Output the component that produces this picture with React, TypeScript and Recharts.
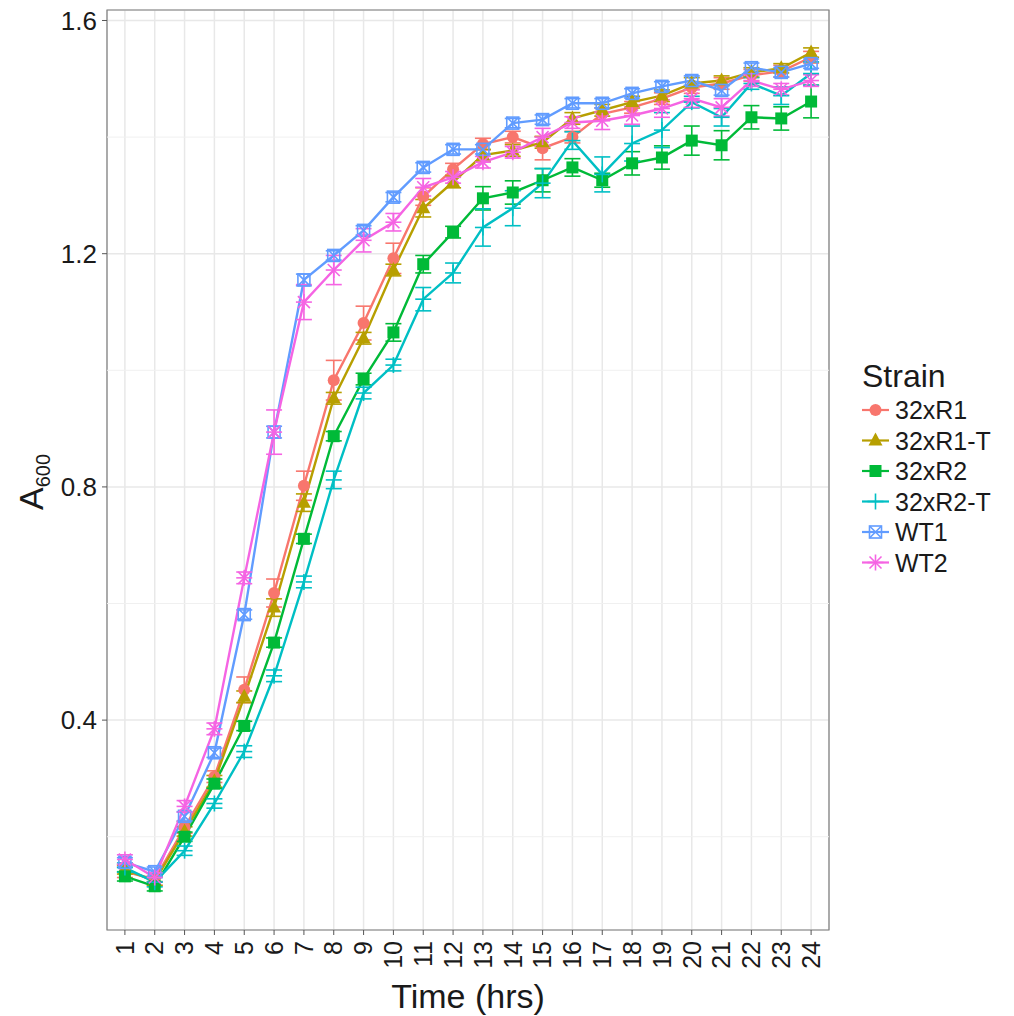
import React from "react";
import { LineChart, Line, XAxis, YAxis, CartesianGrid, ReferenceLine, ReferenceArea, ErrorBar } from "recharts";

// hours (x categories)
const hours = [1, 2, 3, 4, 5, 6, 7, 8, 9, 10, 11, 12, 13, 14, 15, 16, 17, 18, 19, 20, 21, 22, 23, 24];

// A600 readings per strain
const r1 = [0.140, 0.127, 0.216, 0.303, 0.452, 0.618, 0.802, 0.983, 1.081, 1.192, 1.298, 1.345, 1.388, 1.400, 1.381, 1.400, 1.440, 1.451, 1.466, 1.485, 1.492, 1.506, 1.513, 1.537];
const r1t = [0.144, 0.124, 0.209, 0.295, 0.440, 0.593, 0.773, 0.952, 1.055, 1.172, 1.278, 1.323, 1.369, 1.377, 1.391, 1.432, 1.446, 1.460, 1.471, 1.492, 1.497, 1.511, 1.518, 1.545];
const r2 = [0.132, 0.115, 0.200, 0.291, 0.390, 0.533, 0.711, 0.887, 0.985, 1.065, 1.182, 1.237, 1.295, 1.305, 1.326, 1.348, 1.326, 1.355, 1.365, 1.394, 1.386, 1.434, 1.432, 1.461];
const r2t = [0.147, 0.122, 0.176, 0.257, 0.346, 0.476, 0.637, 0.812, 0.961, 1.009, 1.122, 1.167, 1.245, 1.278, 1.321, 1.394, 1.336, 1.389, 1.412, 1.460, 1.434, 1.492, 1.471, 1.509];
const wt1 = [0.156, 0.140, 0.235, 0.344, 0.581, 0.894, 1.155, 1.197, 1.240, 1.297, 1.348, 1.379, 1.379, 1.424, 1.430, 1.458, 1.458, 1.475, 1.487, 1.497, 1.480, 1.519, 1.511, 1.526];
const wt2 = [0.161, 0.130, 0.252, 0.385, 0.644, 0.894, 1.117, 1.172, 1.223, 1.254, 1.314, 1.331, 1.357, 1.374, 1.400, 1.425, 1.428, 1.437, 1.449, 1.466, 1.451, 1.497, 1.482, 1.497];

// error bar half-widths
const r1e = [0.01, 0.01, 0.01, 0.01, 0.022, 0.024, 0.025, 0.034, 0.029, 0.026, 0.015, 0.01, 0.01, 0.01, 0.02, 0.01, 0.01, 0.01, 0.01, 0.01, 0.01, 0.01, 0.01, 0.01];
const r1te = [0.008, 0.008, 0.008, 0.01, 0.01, 0.015, 0.015, 0.01, 0.01, 0.01, 0.015, 0.01, 0.01, 0.01, 0.01, 0.01, 0.01, 0.01, 0.01, 0.01, 0.008, 0.008, 0.008, 0.008];
const r2e = [0.008, 0.008, 0.008, 0.008, 0.008, 0.008, 0.008, 0.008, 0.01, 0.015, 0.015, 0.01, 0.02, 0.02, 0.02, 0.015, 0.012, 0.02, 0.02, 0.025, 0.025, 0.02, 0.02, 0.028];
const r2te = [0.008, 0.008, 0.008, 0.008, 0.01, 0.01, 0.01, 0.015, 0.01, 0.01, 0.02, 0.017, 0.032, 0.03, 0.025, 0.015, 0.03, 0.03, 0.03, 0.01, 0.015, 0.01, 0.015, 0.02];
const wt1e = [0.008, 0.008, 0.008, 0.008, 0.008, 0.01, 0.01, 0.008, 0.008, 0.008, 0.008, 0.008, 0.008, 0.008, 0.008, 0.008, 0.008, 0.008, 0.008, 0.008, 0.008, 0.008, 0.008, 0.008];
const wt2e = [0.008, 0.008, 0.01, 0.01, 0.01, 0.038, 0.03, 0.025, 0.02, 0.015, 0.015, 0.01, 0.01, 0.01, 0.015, 0.01, 0.015, 0.015, 0.015, 0.015, 0.015, 0.01, 0.01, 0.01];

const strains = ["32xR1", "32xR1-T", "32xR2", "32xR2-T", "WT1", "WT2"];
const colors = ["#F8766D", "#B79F00", "#00BA38", "#00BFC4", "#619CFF", "#F564E3"];
const shapes = ["circle", "triangle", "square", "plus", "boxx", "star"];
const values = [r1, r1t, r2, r2t, wt1, wt2];
const errors = [r1e, r1te, r2e, r2te, wt1e, wt2e];

const yTicks = [0.4, 0.8, 1.2, 1.6];
const yMinor = [0.2, 0.6, 1.0, 1.4];

const data = hours.map((h, i) => {
  const row: any = { t: h };
  values.forEach((v, k) => {
    row["s" + k] = v[i];
    row["e" + k] = errors[k][i];
  });
  return row;
});

const FONT = "'Liberation Sans', Arial, Helvetica, sans-serif";
const INK = "#1a1a1a";

function Marker({ shape, color, cx, cy }) {
  if (cx == null || cy == null) return null;
  switch (shape) {
    case "circle":
      return <circle cx={cx} cy={cy} r={6} fill={color} />;
    case "triangle":
      return <polygon points={`${cx},${cy - 8} ${cx - 7},${cy + 5} ${cx + 7},${cy + 5}`} fill={color} />;
    case "square":
      return <rect x={cx - 6} y={cy - 6} width={12} height={12} fill={color} />;
    case "plus":
      return (
        <g stroke={color} strokeWidth={1.6}>
          <line x1={cx - 8} y1={cy} x2={cx + 8} y2={cy} />
          <line x1={cx} y1={cy - 8} x2={cx} y2={cy + 8} />
        </g>
      );
    case "boxx":
      return (
        <g stroke={color} strokeWidth={1.6} fill="none">
          <rect x={cx - 6} y={cy - 6} width={12} height={12} />
          <line x1={cx - 6} y1={cy - 6} x2={cx + 6} y2={cy + 6} />
          <line x1={cx - 6} y1={cy + 6} x2={cx + 6} y2={cy - 6} />
        </g>
      );
    default:
      return (
        <g stroke={color} strokeWidth={1.6}>
          <line x1={cx - 8} y1={cy} x2={cx + 8} y2={cy} />
          <line x1={cx} y1={cy - 8} x2={cx} y2={cy + 8} />
          <line x1={cx - 6} y1={cy - 6} x2={cx + 6} y2={cy + 6} />
          <line x1={cx - 6} y1={cy + 6} x2={cx + 6} y2={cy - 6} />
        </g>
      );
  }
}

function XTick({ x, y, payload }) {
  return (
    <g transform={`translate(${x},${y})`}>
      <text transform="rotate(-90)" x={0} y={0} dy="0.35em" textAnchor="end" fontSize={25} fill={INK} fontFamily={FONT}>
        {payload.value}
      </text>
    </g>
  );
}

function StrainLegend() {
  return (
    <svg width={160} height={240} style={{ position: "absolute", left: 855, top: 355 }}>
      <text x={7} y={32} fontSize={32} fill={INK} fontFamily={FONT}>Strain</text>
      {strains.map((s, i) => {
        const cy = 55 + i * 30.5;
        return (
          <g key={s}>
            <line x1={7} x2={34} y1={cy} y2={cy} stroke={colors[i]} strokeWidth={2.2} />
            <Marker shape={shapes[i]} color={colors[i]} cx={20.5} cy={cy} />
            <text x={40} y={cy} dy="0.36em" fontSize={25} fill={INK} fontFamily={FONT}>{s}</text>
          </g>
        );
      })}
    </svg>
  );
}

export default function App() {
  return (
    <div style={{ position: "absolute", left: 0, top: 0, width: 1014, height: 1016, background: "#fff" }}>
      <LineChart width={1014} height={1016} data={data} margin={{ top: 10, right: 185, bottom: 36, left: 47 }}>
        <CartesianGrid stroke="#e8e8e8" strokeWidth={1.5} />
        {yMinor.map((v) => (
          <ReferenceLine key={v} y={v} stroke="#f0f0f0" strokeWidth={1} />
        ))}
        <XAxis
          dataKey="t"
          type="number"
          domain={[0.4, 24.6]}
          ticks={hours}
          interval={0}
          allowDataOverflow
          height={50}
          axisLine={false}
          tickSize={5}
          tickMargin={6}
          tickLine={{ stroke: "#555" }}
          tick={XTick}
        />
        <YAxis
          type="number"
          domain={[0.04, 1.618]}
          ticks={yTicks}
          allowDataOverflow
          width={60}
          axisLine={false}
          tickSize={5}
          tickMargin={5}
          tickLine={{ stroke: "#555" }}
          tickFormatter={(v) => v.toFixed(1)}
          tick={{ fontSize: 26, fill: INK, fontFamily: FONT }}
        />
        <ReferenceArea x1={0.4} x2={24.6} y1={0.04} y2={1.618} fill="none" stroke="#7f7f7f" strokeWidth={1.2} />
        {strains.map((s, k) => (
          <Line
            key={s}
            dataKey={"s" + k}
            name={s}
            stroke={colors[k]}
            strokeWidth={2.4}
            isAnimationActive={false}
            dot={(p: any) => <Marker key={s + p.index} shape={shapes[k]} color={colors[k]} cx={p.cx} cy={p.cy} />}
            activeDot={false}
          >
            <ErrorBar dataKey={"e" + k} direction="y" width={8} stroke={colors[k]} strokeWidth={1.6} isAnimationActive={false} />
          </Line>
        ))}
      </LineChart>
      <svg width={1014} height={1016} style={{ position: "absolute", left: 0, top: 0, pointerEvents: "none" }}>
        <text transform="translate(43,482) rotate(-90)" textAnchor="middle" fontSize={34} fill={INK} fontFamily={FONT}>
          A<tspan fontSize={20} dy={7}>600</tspan>
        </text>
        <text x={468} y={1008} textAnchor="middle" fontSize={34} fill={INK} fontFamily={FONT}>
          Time (hrs)
        </text>
      </svg>
      <StrainLegend />
    </div>
  );
}
